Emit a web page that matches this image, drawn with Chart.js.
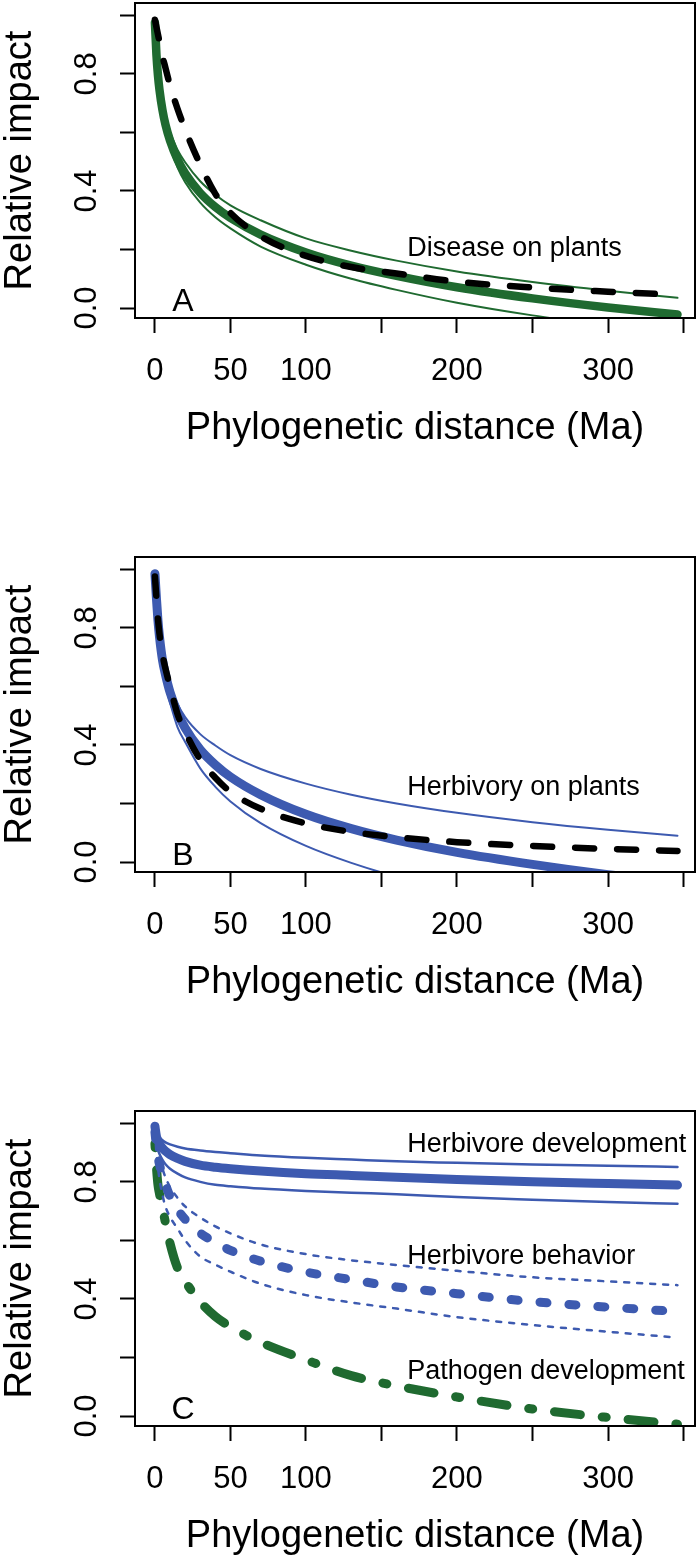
<!DOCTYPE html>
<html lang="en">
<head>
    <meta charset="UTF-8">
    <title>Relative impact vs phylogenetic distance</title>
    <style>
        body { margin: 0; background: #fff; }
        .panel { position: absolute; left: 0; width: 700px; height: 457px; }
    </style>
    <script src="https://cdn.jsdelivr.net/npm/chart.js"></script>
</head>
<body>
    <div class="panel" style="top:0px"><canvas id="chartA"></canvas></div>
    <div class="panel" style="top:554px"><canvas id="chartB"></canvas></div>
    <div class="panel" style="top:1108px"><canvas id="chartC"></canvas></div>
    <script>
        const dist = [0, 1, 2, 3, 5, 7, 10, 15, 20, 30, 40, 50, 70, 100, 130, 160, 200, 250, 300, 346];

        // A: disease on plants
        const diseaseFit   = [0.975, 0.865, 0.795, 0.746, 0.676, 0.626, 0.572, 0.507, 0.46, 0.393, 0.345, 0.308, 0.251, 0.19, 0.145, 0.11, 0.071, 0.033, 0.002, -0.022];
        const diseaseUpper = [0.975, 0.865, 0.80, 0.752, 0.685, 0.64, 0.60, 0.54, 0.498, 0.433, 0.387, 0.351, 0.30, 0.238, 0.196, 0.162, 0.125, 0.089, 0.059, 0.035];
        const diseaseLower = [0.975, 0.86, 0.79, 0.74, 0.665, 0.61, 0.55, 0.48, 0.43, 0.36, 0.31, 0.272, 0.21, 0.148, 0.10, 0.062, 0.018, -0.025, -0.058, -0.085];
        const diseaseRef   = [0.985, 0.96, 0.935, 0.91, 0.86, 0.82, 0.76, 0.68, 0.61, 0.49, 0.39, 0.325, 0.245, 0.178, 0.14, 0.118, 0.09, 0.07, 0.056, 0.045];

        // B: herbivory on plants
        const herbFit   = [0.985, 0.90, 0.825, 0.77, 0.69, 0.64, 0.58, 0.51, 0.458, 0.384, 0.332, 0.291, 0.23, 0.163, 0.114, 0.075, 0.033, -0.008, -0.043, -0.07];
        const herbUpper = [0.985, 0.905, 0.835, 0.785, 0.71, 0.66, 0.605, 0.54, 0.495, 0.437, 0.398, 0.365, 0.318, 0.268, 0.23, 0.20, 0.168, 0.136, 0.11, 0.09];
        const herbLower = [0.985, 0.89, 0.81, 0.755, 0.665, 0.605, 0.545, 0.46, 0.41, 0.32, 0.257, 0.207, 0.133, 0.055, -0.003, -0.05, -0.10, -0.15, -0.19, -0.22];
        const herbRef   = [0.975, 0.90, 0.83, 0.78, 0.71, 0.66, 0.60, 0.505, 0.445, 0.35, 0.288, 0.24, 0.182, 0.132, 0.103, 0.085, 0.068, 0.055, 0.045, 0.038];

        // C: traits
        const devFit     = [0.99, 0.955, 0.94, 0.93, 0.915, 0.905, 0.893, 0.88, 0.87, 0.857, 0.85, 0.845, 0.837, 0.828, 0.822, 0.816, 0.808, 0.80, 0.794, 0.789];
        const devUpper   = [0.99, 0.97, 0.96, 0.952, 0.942, 0.935, 0.928, 0.92, 0.914, 0.907, 0.902, 0.898, 0.89, 0.882, 0.876, 0.87, 0.865, 0.859, 0.855, 0.851];
        const devLower   = [0.99, 0.935, 0.91, 0.895, 0.875, 0.86, 0.845, 0.828, 0.815, 0.80, 0.79, 0.785, 0.777, 0.769, 0.763, 0.758, 0.748, 0.739, 0.731, 0.725];
        const behavFit   = [0.97, 0.92, 0.885, 0.86, 0.82, 0.79, 0.75, 0.705, 0.672, 0.625, 0.593, 0.566, 0.529, 0.492, 0.466, 0.441, 0.418, 0.391, 0.372, 0.357];
        const behavUpper = [0.97, 0.935, 0.905, 0.88, 0.845, 0.815, 0.782, 0.745, 0.716, 0.678, 0.648, 0.624, 0.586, 0.553, 0.532, 0.516, 0.496, 0.474, 0.46, 0.447];
        const behavLower = [0.97, 0.90, 0.85, 0.81, 0.755, 0.715, 0.68, 0.64, 0.60, 0.545, 0.517, 0.493, 0.452, 0.413, 0.388, 0.367, 0.338, 0.311, 0.288, 0.268];
        const pathoFit   = [0.93, 0.85, 0.79, 0.76, 0.71, 0.66, 0.59, 0.505, 0.46, 0.39, 0.34, 0.305, 0.252, 0.192, 0.138, 0.103, 0.065, 0.024, -0.005, -0.028];

        // axes
        const xTicks = [0, 50, 100, 150, 200, 250, 300, 350];
        const xLabels = [0, 50, 100, 200, 300];
        const yTicks = [0, 0.2, 0.4, 0.6, 0.8, 1.0];
        const yLabels = [0, 0.4, 0.8];

        const green = '#1f6a30';
        const blue = '#3d5ab0';
        const font = "'Liberation Sans', Arial, Helvetica, sans-serif";

        function pts(ys) {
            return dist.map((x, i) => ({ x: x, y: ys[i] }));
        }

        function line(ys, color, width, dash, order) {
            return {
                data: pts(ys),
                borderColor: color,
                borderWidth: width,
                borderDash: dash || [],
                borderCapStyle: 'round',
                borderJoinStyle: 'round',
                pointRadius: 0,
                fill: false,
                cubicInterpolationMode: 'monotone',
                clip: 0,
                order: order
            };
        }

        // R-style text: rotated y tick labels, axis titles, panel letter, notes
        const rText = {
            id: 'rText',
            afterDraw(chart, args, opts) {
                const ctx = chart.ctx;
                const area = chart.chartArea;
                const xs = chart.scales.x;
                const ys = chart.scales.y;
                ctx.save();
                ctx.strokeStyle = '#000';
                ctx.lineWidth = 2;
                ctx.strokeRect(area.left, area.top, area.right - area.left, area.bottom - area.top);

                ctx.fillStyle = '#000';
                ctx.textBaseline = 'alphabetic';

                // y tick labels (rotated)
                ctx.font = '31px ' + font;
                ctx.textAlign = 'center';
                yLabels.forEach(v => {
                    ctx.save();
                    ctx.translate(96, ys.getPixelForValue(v));
                    ctx.rotate(-Math.PI / 2);
                    ctx.fillText(v.toFixed(1), 0, 0);
                    ctx.restore();
                });

                // x tick labels
                xLabels.forEach(v => {
                    ctx.fillText(String(v), xs.getPixelForValue(v), 380);
                });

                // axis titles
                ctx.font = '38px ' + font;
                ctx.fillText('Phylogenetic distance (Ma)', (area.left + area.right) / 2, 439);
                ctx.save();
                ctx.translate(31, (area.top + area.bottom) / 2);
                ctx.rotate(-Math.PI / 2);
                ctx.fillText('Relative impact', 0, 0);
                ctx.restore();

                // panel letter
                ctx.font = '32px ' + font;
                ctx.fillText(opts.letter, 183, 311);

                // notes
                ctx.font = '27px ' + font;
                ctx.textAlign = 'left';
                opts.notes.forEach(n => {
                    ctx.fillText(n.text, xs.getPixelForValue(n.x), ys.getPixelForValue(n.y));
                });
                ctx.restore();
            }
        };

        function makeChart(id, datasets, letter, notes) {
            return new Chart(document.getElementById(id), {
                type: 'line',
                data: { datasets: datasets },
                options: {
                    responsive: true,
                    maintainAspectRatio: false,
                    animation: false,
                    devicePixelRatio: 1,
                    layout: { padding: { top: 3, right: 5, bottom: 0, left: 0 } },
                    plugins: {
                        legend: { display: false },
                        tooltip: { enabled: false },
                        rText: { letter: letter, notes: notes }
                    },
                    scales: {
                        x: {
                            type: 'linear',
                            min: -13.2,
                            max: 357.6,
                            afterBuildTicks: s => { s.ticks = xTicks.map(v => ({ value: v })); },
                            afterFit: s => { s.height = 139; },
                            ticks: { display: false },
                            grid: { drawOnChartArea: false, drawTicks: true, tickLength: 15, tickColor: '#000', tickWidth: 2 },
                            border: { display: false }
                        },
                        y: {
                            min: -0.034,
                            max: 1.042,
                            afterBuildTicks: s => { s.ticks = yTicks.map(v => ({ value: v })); },
                            afterFit: s => { s.width = 135; },
                            ticks: { display: false },
                            grid: { drawOnChartArea: false, drawTicks: true, tickLength: 15, tickColor: '#000', tickWidth: 2 },
                            border: { display: false }
                        }
                    }
                },
                plugins: [rText]
            });
        }

        makeChart('chartA', [
            line(diseaseRef, '#000', 6.5, [19, 23], 1),
            line(diseaseFit, green, 8.5, [], 2),
            line(diseaseUpper, green, 2, [], 3),
            line(diseaseLower, green, 2, [], 4)
        ], 'A', [{ text: 'Disease on plants', x: 167, y: 0.178 }]);

        makeChart('chartB', [
            line(herbRef, '#000', 6.5, [19, 23], 1),
            line(herbFit, blue, 9, [], 2),
            line(herbUpper, blue, 2, [], 3),
            line(herbLower, blue, 2, [], 4)
        ], 'B', [{ text: 'Herbivory on plants', x: 167, y: 0.229 }]);

        makeChart('chartC', [
            line(devFit, blue, 9, [], 1),
            line(devUpper, blue, 2.5, [], 2),
            line(devLower, blue, 2.5, [], 3),
            line(behavFit, blue, 9, [7, 22], 4),
            line(behavUpper, blue, 2.5, [5, 8], 5),
            line(behavLower, blue, 2.5, [5, 8], 6),
            line(pathoFit, green, 9, [4, 22, 26, 22], 7)
        ], 'C', [
            { text: 'Herbivore development', x: 167, y: 0.902 },
            { text: 'Herbivore behavior', x: 167, y: 0.519 },
            { text: 'Pathogen development', x: 167, y: 0.126 }
        ]);
    </script>
</body>
</html>
